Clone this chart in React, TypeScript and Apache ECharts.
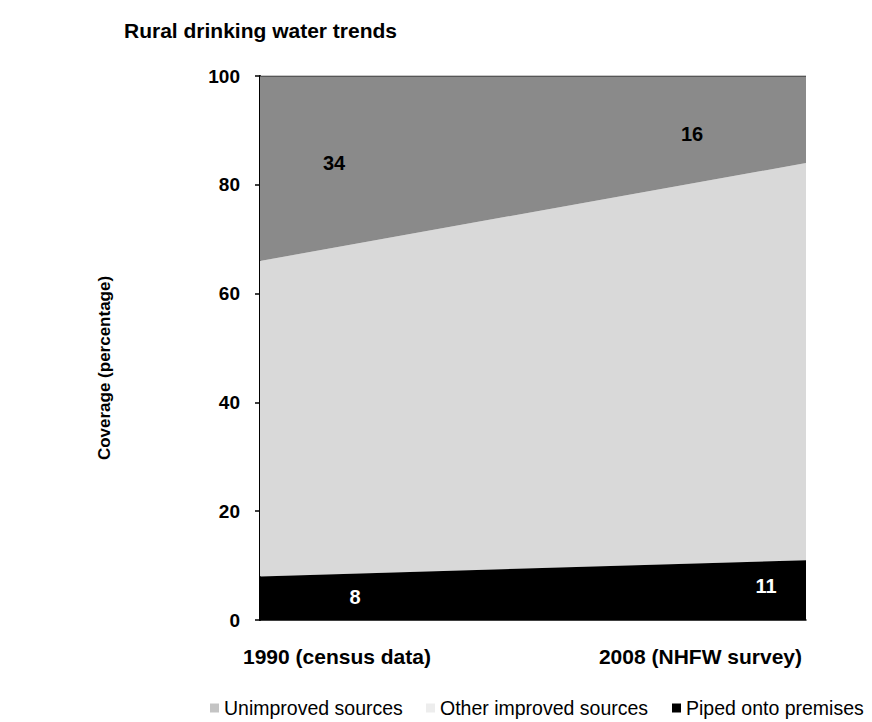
import React, { useEffect, useRef } from "react";
import * as echarts from "echarts";

const categories = ["1990 (census data)", "2008 (NHFW survey)"];
const piped = [8, 11];
const otherImproved = [58, 73];
const unimproved = [34, 16];
const yTicks = [0, 20, 40, 60, 80, 100];

const FONT = "'Liberation Sans', Arial, sans-serif";

export default function App() {
  const ref = useRef<HTMLDivElement>(null);
  useEffect(() => {
    document.body.style.margin = "0";
    if (!ref.current) return;
    const chart = echarts.init(ref.current, null, { renderer: "svg" });
    const labelOffsets: Record<string, [number, number][]> = {
      Unimproved: [[74, -5], [-114, 14]],
      Piped: [[95, -1], [-40, -4]],
    };
    const mid = (i: number, base: number[][], v: number[]) =>
      base.reduce((s, a) => s + a[i], 0) + v[i] / 2;
    const labelSeries = (name: string, base: number[][], v: number[], color: string) => ({
      type: "scatter",
      name: name + "-labels",
      symbolSize: 0,
      silent: true,
      z: 5,
      itemStyle: { opacity: 1 },
      data: v.map((val, i) => ({
        value: [i, mid(i, base, v), val],
        label: {
          show: true,
          position: "inside",
          offset: labelOffsets[name][i],
          formatter: String(val),
          color,
          opacity: 1,
          fontFamily: FONT,
          fontWeight: "bold",
          fontSize: 20,
        },
      })),
    });
    const legendBase = {
      top: 698,
      padding: 0,
      icon: "rect",
      itemWidth: 9,
      itemHeight: 9,
      textStyle: { fontFamily: FONT, fontSize: 19.5, color: "#000" },
    };
    chart.setOption({
      animation: false,
      title: {
        text: "Rural drinking water trends",
        left: 119,
        top: 15,
        textStyle: { fontFamily: FONT, fontWeight: "bold", fontSize: 21, color: "#000" },
      },
      grid: { left: 260, right: 66, top: 76, bottom: 102 },
      legend: [
        { ...legendBase, data: ["Unimproved sources"], left: 210 },
        { ...legendBase, data: ["Other improved sources"], left: 426 },
        { ...legendBase, data: ["Piped onto premises"], left: 672 },
      ],
      xAxis: {
        type: "category",
        data: [
          { value: categories[0], textStyle: { align: "left", padding: [0, 0, 0, -17] } },
          { value: categories[1], textStyle: { align: "right", padding: [0, 4, 0, 0] } },
        ],
        boundaryGap: false,
        axisLine: { show: true, lineStyle: { color: "#000", width: 1.5 } },
        axisTick: { show: false },
        axisLabel: {
          margin: 26,
          fontFamily: FONT,
          fontWeight: "bold",
          fontSize: 21,
          color: "#000",
        },
      },
      yAxis: {
        type: "value",
        min: yTicks[0],
        max: yTicks[yTicks.length - 1],
        interval: 20,
        name: "Coverage (percentage)",
        nameLocation: "middle",
        nameGap: 147,
        nameTextStyle: {
          fontFamily: FONT,
          fontWeight: "bold",
          fontSize: 17,
          color: "#000",
          padding: [0, 40, 0, 0],
        },
        axisLine: { show: true, lineStyle: { color: "#000", width: 2 } },
        axisTick: { show: true, length: 5, lineStyle: { color: "#000", width: 1.5 } },
        splitLine: { show: false },
        axisLabel: {
          margin: 20,
          fontFamily: FONT,
          fontWeight: "bold",
          fontSize: 19,
          color: "#000",
        },
      },
      series: [
        {
          name: "Piped onto premises",
          type: "line",
          stack: "total",
          data: piped,
          symbol: "none",
          lineStyle: { width: 0 },
          areaStyle: { color: "#000000", opacity: 1 },
          itemStyle: { color: "#000000" },
          z: 3,
        },
        {
          name: "Other improved sources",
          type: "line",
          stack: "total",
          data: otherImproved,
          symbol: "none",
          lineStyle: { width: 0 },
          areaStyle: { color: "#d9d9d9", opacity: 1 },
          itemStyle: { color: "#ededed" },
          z: 2,
        },
        {
          name: "Unimproved sources",
          type: "line",
          stack: "total",
          data: unimproved,
          symbol: "none",
          lineStyle: { width: 1.2, color: "#222" },
          areaStyle: { color: "#8a8a8a", opacity: 1 },
          itemStyle: { color: "#c4c4c4" },
          z: 2,
        },
        labelSeries("Unimproved", [piped, otherImproved], unimproved, "#000"),
        labelSeries("Piped", [], piped, "#fff"),
      ],
    });
    return () => chart.dispose();
  }, []);
  return <div ref={ref} style={{ width: 872, height: 722 }} />;
}
